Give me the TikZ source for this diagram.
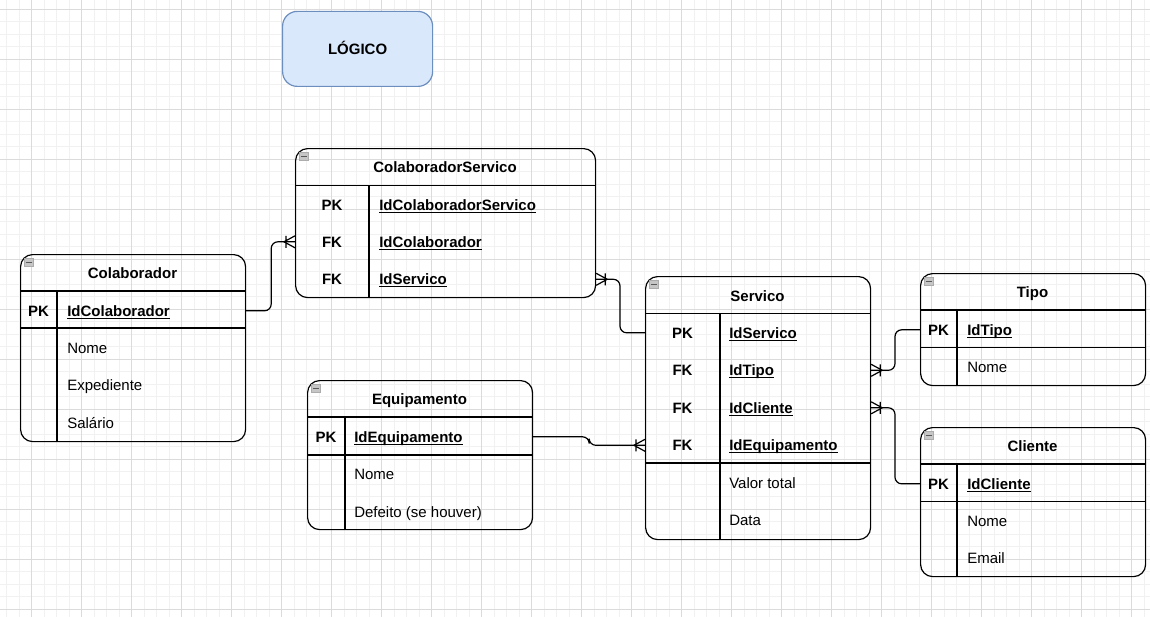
\documentclass[tikz,border=0pt]{standalone}
\usepackage{fontspec}
\setmainfont{Liberation Sans}
\usepackage{tikz}
\usetikzlibrary{arrows.meta}
\usetikzlibrary{decorations.markings}
\definecolor{logicfill}{HTML}{DAE8FC}
\definecolor{logicline}{HTML}{6C8EBF}
\newcommand{\keyname}[1]{\underline{\smash{#1}}}
\tikzset{
tbl/.style={draw, line width=0.9pt, rounded corners=9pt, anchor=north west, inner sep=0pt},
txt/.style={inner sep=0pt, text height=8pt, text depth=0pt, yshift=-0.6pt},
bold/.style={txt, execute at begin node=\bfseries},
fld/.style={txt, anchor=west},
keyfld/.style={bold, anchor=west},
sep/.style={line width=0.9pt},
pksep/.style={line width=1.1pt},
conn/.style={line width=0.9pt, rounded corners=5pt},
many end/.style={postaction={decorate}, decoration={markings, mark=at position 1 with {\draw[line width=0.9pt, sharp corners] (0,6) -- (-11,0) -- (0,-6) (-9,-6) -- (-9,6);}}},
minorgrid/.style={draw=gray!11, line width=0.6pt},
majorgrid/.style={draw=gray!28, line width=0.75pt}}

\begin{document}
\begin{tikzpicture}[x=0.75pt, y=-0.75pt, every node/.append style={font=\fontsize{11.25}{13.5}\selectfont}]

    \fill[white] (0,0) rectangle (1150,617);
    \useasboundingbox (0,0) rectangle (1150,617);

    % grid
    \foreach \i in {0,...,91} \draw[minorgrid] ({6.7+12.5*\i},0) -- ({6.7+12.5*\i},617);
    \foreach \j in {0,...,48} \draw[minorgrid] (0,{9.3+12.5*\j}) -- (1150,{9.3+12.5*\j});
    \foreach \i in {0,...,22} \draw[majorgrid] ({31.7+50*\i},0) -- ({31.7+50*\i},617);
    \foreach \j in {0,...,12} \draw[majorgrid] (0,{9.3+50*\j}) -- (1150,{9.3+50*\j});

    \node[bold, draw=logicline, fill=logicfill, line width=0.9pt, rounded corners=11pt, anchor=north west, minimum width=112.5pt, minimum height=56.25pt] (logico) at (282,10) {LÓGICO};

    % Colaborador
    \node[tbl, minimum width=168.75pt, minimum height=140.25pt] (colab) at (20,254) {};
    \node[bold] (colabT) at (132.5,272.5) {Colaborador};
    \node[bold] (colabPK) at (38.5,310) {PK};
    \node[keyfld] (colabId) at (67,310) {\keyname{IdColaborador}};
    \node[fld] (colabNome) at (67,347) {Nome};
    \node[fld] (colabExp) at (67,384.5) {Expediente};
    \node[fld] (colabSal) at (67,422) {Salário};
    \draw[sep] (20,291) -- (245,291) (57,291) -- (57,441);
    \draw[pksep] (20,328) -- (245,328);

    % ColaboradorServico
    \node[tbl, minimum width=225pt, minimum height=111.75pt] (cs) at (295,148) {};
    \node[bold] (csT) at (445,166.5) {ColaboradorServico};
    \node[bold] (csPK) at (332,204) {PK};
    \node[bold] (csFK1) at (332,241) {FK};
    \node[bold] (csFK2) at (332,278.5) {FK};
    \node[keyfld] (csId) at (379,204) {\keyname{IdColaboradorServico}};
    \node[keyfld] (csColab) at (379,241) {\keyname{IdColaborador}};
    \node[keyfld] (csServ) at (379,278.5) {\keyname{IdServico}};
    \draw[sep] (295,185.5) -- (595,185.5) (369,185.5) -- (369,297);

    % Servico
    \node[tbl, minimum width=168.75pt, minimum height=197.25pt] (serv) at (645,276) {};
    \node[bold] (servT) at (757.5,295) {Servico};
    \node[bold] (servPK) at (682.5,332) {PK};
    \node[bold] (servFK1) at (682.5,369.5) {FK};
    \node[bold] (servFK2) at (682.5,407) {FK};
    \node[bold] (servFK3) at (682.5,444.5) {FK};
    \node[keyfld] (servId) at (729,332) {\keyname{IdServico}};
    \node[keyfld] (servTipo) at (729,369.5) {\keyname{IdTipo}};
    \node[keyfld] (servCli) at (729,407) {\keyname{IdCliente}};
    \node[keyfld] (servEquip) at (729,444.5) {\keyname{IdEquipamento}};
    \node[fld] (servValor) at (729,482) {Valor total};
    \node[fld] (servData) at (729,519.5) {Data};
    \draw[sep] (645,313.5) -- (870,313.5) (720,313.5) -- (720,539);
    \draw[pksep] (645,463) -- (870,463);

    % Tipo
    \node[tbl, minimum width=168.75pt, minimum height=84pt] (tipo) at (920,273) {};
    \node[bold] (tipoT) at (1032.5,291.5) {Tipo};
    \node[bold] (tipoPK) at (938.5,329) {PK};
    \node[keyfld] (tipoId) at (967,329) {\keyname{IdTipo}};
    \node[fld] (tipoNome) at (967,366.5) {Nome};
    \draw[sep] (920,310) -- (1145,310) (957,310) -- (957,385);
    \draw[pksep] (920,347.5) -- (1145,347.5);

    % Cliente
    \node[tbl, minimum width=168.75pt, minimum height=111.75pt] (cli) at (920,427) {};
    \node[bold] (cliT) at (1032.5,445.5) {Cliente};
    \node[bold] (cliPK) at (938.5,483) {PK};
    \node[keyfld] (cliId) at (967,483) {\keyname{IdCliente}};
    \node[fld] (cliNome) at (967,520) {Nome};
    \node[fld] (cliEmail) at (967,557.5) {Email};
    \draw[sep] (920,464) -- (1145,464) (957,464) -- (957,576);
    \draw[pksep] (920,501.5) -- (1145,501.5);

    % Equipamento
    \node[tbl, minimum width=168.75pt, minimum height=111.75pt] (equip) at (307,380) {};
    \node[bold] (equipT) at (419.5,398.5) {Equipamento};
    \node[bold] (equipPK) at (326,436) {PK};
    \node[keyfld] (equipId) at (354,436) {\keyname{IdEquipamento}};
    \node[fld] (equipNome) at (354,473.5) {Nome};
    \node[fld] (equipDef) at (354,511) {Defeito (se houver)};
    \draw[sep] (307,417) -- (532,417) (345,417) -- (345,529);
    \draw[pksep] (307,455) -- (532,455);

    % collapse icons
    \foreach \t in {colab,cs,serv,tipo,cli,equip} {
        \draw[fill=gray!45, draw=gray!65, line width=0.5pt] ([shift={(4,4.5)}]\t.north west) rectangle ++(9,8);
        \draw[black!65, line width=1pt] ([shift={(5.5,8.5)}]\t.north west) -- ++(6,0);
    }

    % relations
    \draw[conn, many end] (colab.east |- colabId) -- ++(25,0) |- (cs.west |- csColab);
    \draw[conn, many end] (serv.west |- servId) -- ++(-25,0) |- (cs.east |- csServ);
    \draw[conn, many end] (equip.east |- equipId) -- ++(56,0) |- (serv.west |- servEquip);
    \draw[conn, many end] (tipo.west |- tipoId) -- ++(-25,0) |- (serv.east |- servTipo);
    \draw[conn, many end] (cli.west |- cliId) -- ++(-25,0) |- (serv.east |- servCli);

\end{tikzpicture}
\end{document}
